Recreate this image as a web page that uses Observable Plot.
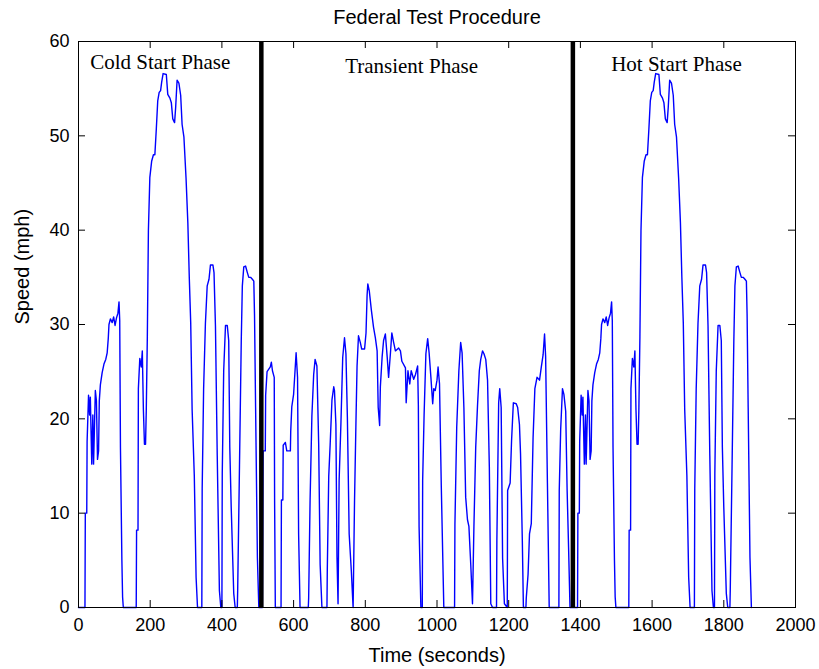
<!DOCTYPE html>
<html>
<head>
<meta charset="utf-8">
<script src="https://cdn.jsdelivr.net/npm/d3@7"></script>
<script src="https://cdn.jsdelivr.net/npm/@observablehq/plot@0.6"></script>
<style>
  html, body { margin: 0; padding: 0; background: #fff; }
  #chart svg { display: block; }
</style>
</head>
<body>
<div id="chart"></div>
<script>
// ---- Text ----
const chartTitle = "Federal Test Procedure";
const xLabel = "Time (seconds)";
const yLabel = "Speed (mph)";

// ---- Axis ticks ----
const xTicks = [0, 200, 400, 600, 800, 1000, 1200, 1400, 1600, 1800, 2000];
const yTicks = [0, 10, 20, 30, 40, 50, 60];

// ---- Phase boundaries (s) and phase annotations ----
const phaseBoundaries = [510, 1379];
const phaseNames = ["Cold Start Phase", "Transient Phase", "Hot Start Phase"];
const phaseLabelTime = [228, 929, 1668];
const phaseLabelSpeed = [57.8, 57.4, 57.6];

// ---- Speed trace [time s, speed mph] ----
const coldStartPhase = [
  [0,0],[18,0],[19,10],[23,10],[24,17.6],[28,22.5],[31,20.4],[33,22.3],[37,15.2],[40,20.4],[42,15.2],[47,23],[50,21.9],[53,15.7],[56,16.6],[58,21.9],[61,23.6],[66,24.9],[71,25.8],[76,26.3],[80,27],[83,28.5],[85,30],[89,30.6],[94,30.2],[98,30.8],[102,29.9],[106,30.7],[110,31.2],[113,32.4],[115,30.4],[117,17],[121,5],[123,1.1],[125,0],
  [161,0],[162,8.2],[166,8.2],[167,23.2],[171,26.4],[175,25.5],[178,27.2],[181,21],[184,17.3],[187,17.3],[189,20.8],[192,28.7],[195,40],[199,45.6],[204,47.3],[209,48],[213,48],[217,50.7],[221,53.7],[225,54.6],[229,54.8],[232,55.7],[236,56.6],[245,56.5],[249,54.4],[255,54],[259,53.5],[263,51.8],[268,51.4],[271,53],[275,55.9],[280,55.6],[285,54.3],[289,51.2],[294,49.9],[300,45.5],[305,40.8],[309,35],[313,30.2],[317,20.9],[323,14],[328,3.2],[332,0],
  [344,0],[345,12.6],[349,23.2],[354,30.1],[359,34.1],[364,34.8],[368,36.3],[375,36.3],[378,35.5],[382,29.9],[387,16.1],[393,1.8],[397,0],
  [400,0],[401,14.2],[405,25.1],[410,29.9],[415,29.9],[419,28.3],[422,17],[426,10.6],[433,1.5],[437,0],
  [443,0],[444,1.8],[449,14.9],[454,28.3],[457,34.1],[461,36.1],[466,36.2],[471,35.5],[475,35],[480,35],[485,34.8],[489,34.6],[491,31],[494,21.2],[499,5.3],[503,0],[505,0]
];

const transientPhase = [
  [505,0],[513,0],[515,16.6],[521,16.6],[522,22.5],[526,25],[535,25.5],[538,26],[541,25.1],[546,24.4],[547,11.5],[549,0],
  [565,0],[566,11.4],[570,11.4],[571,17.2],[577,17.5],[581,16.6],[591,16.6],[592,18.7],[595,21.3],[600,22.6],[604,25.1],[607,27],[611,24.4],[614,7.8],[618,0],
  [641,0],[642,1],[646,11.4],[651,20.3],[656,24.7],[660,26.3],[665,25.6],[670,17.3],[674,4.6],[679,0],
  [693,0],[694,4],[698,13.9],[702,17.3],[707,22],[712,23.4],[714,23],[718,19.4],[721,5.4],[724,0.4],[727,13.5],[732,19.5],[737,26.5],[742,28.6],[746,26.9],[750,20.2],[755,7.8],[761,3.9],[766,0],[770,11.4],[774,19.8],[777,25.6],[781,28.8],[786,28.1],[790,27.4],[798,27.4],[802,29.1],[805,33.1],[807,34.3],[811,33.6],[817,31.5],[823,29.7],[828,28.6],[833,27.2],[836,21.2],[840,19.3],[842,23.4],[847,26.6],[851,28.3],[856,29],[861,26.6],[865,24.4],[870,26.9],[874,29.1],[879,28.1],[884,27.2],[893,27.5],[898,27.2],[902,26.1],[912,25.4],[914,21.7],[919,25.1],[924,23.7],[928,25.1],[935,24.2],[940,24.7],[946,25.6],[948,21.4],[950,8.6],[955,0],
  [959,0],[960,13.5],[964,20.4],[969,26.9],[974,28.5],[978,27],[983,24.4],[988,21.6],[991,23.2],[995,23],[1000,24.1],[1003,25.5],[1007,23.7],[1012,12.8],[1019,0],
  [1049,0],[1050,8.8],[1055,19.1],[1061,25.1],[1066,28.1],[1070,27],[1075,21.2],[1080,11.7],[1085,9.3],[1089,8.6],[1094,4.7],[1099,0.4],[1103,8.6],[1108,17],[1113,21.4],[1118,25.1],[1122,26.3],[1127,27.2],[1131,26.9],[1136,26.3],[1141,24.1],[1146,14.9],[1150,0.4],[1155,0],
  [1166,0],[1167,7.1],[1172,21.7],[1175,23.2],[1179,21.2],[1183,5.2],[1188,0.4],[1196,0],[1197,12.4],[1204,13.2],[1208,17.7],[1213,21.7],[1221,21.6],[1225,21.2],[1230,19.4],[1233,16.3],[1238,7.1],[1241,0],[1248,0],[1249,1],[1254,3.5],[1258,7.8],[1263,8.9],[1268,18],[1273,23.2],[1279,24.4],[1286,24.1],[1291,25.5],[1296,26.8],[1300,29],[1303,26.6],[1308,13.2],[1313,0],
  [1340,0],[1341,12.4],[1345,18.9],[1350,23.2],[1354,22.6],[1359,20.8],[1363,12.4],[1367,6.4],[1371,0],[1374,0]
];

const hotStartPhase = [
  [1374,0],[1392,0],[1393,10],[1397,10],[1398,17.6],[1402,22.5],[1405,20.4],[1407,22.3],[1411,15.2],[1414,20.4],[1416,15.2],[1421,23],[1424,21.9],[1427,15.7],[1430,16.6],[1432,21.9],[1435,23.6],[1440,24.9],[1445,25.8],[1450,26.3],[1454,27],[1457,28.5],[1459,30],[1463,30.6],[1468,30.2],[1472,30.8],[1476,29.9],[1480,30.7],[1484,31.2],[1487,32.4],[1489,30.4],[1491,17],[1495,5],[1497,1.1],[1499,0],
  [1535,0],[1536,8.2],[1540,8.2],[1541,23.2],[1545,26.4],[1549,25.5],[1552,27.2],[1555,21],[1558,17.3],[1561,17.3],[1563,20.8],[1566,28.7],[1569,40],[1573,45.6],[1578,47.3],[1583,48],[1587,48],[1591,50.7],[1595,53.7],[1599,54.6],[1603,54.8],[1606,55.7],[1610,56.6],[1619,56.5],[1623,54.4],[1629,54],[1633,53.5],[1637,51.8],[1642,51.4],[1645,53],[1649,55.9],[1654,55.6],[1659,54.3],[1663,51.2],[1668,49.9],[1674,45.5],[1679,40.8],[1683,35],[1687,30.2],[1691,20.9],[1697,14],[1702,3.2],[1706,0],
  [1718,0],[1719,12.6],[1723,23.2],[1728,30.1],[1733,34.1],[1738,34.8],[1742,36.3],[1749,36.3],[1752,35.5],[1756,29.9],[1761,16.1],[1767,1.8],[1771,0],
  [1774,0],[1775,14.2],[1779,25.1],[1784,29.9],[1789,29.9],[1793,28.3],[1796,17],[1800,10.6],[1807,1.5],[1811,0],
  [1817,0],[1818,1.8],[1823,14.9],[1828,28.3],[1831,34.1],[1835,36.1],[1840,36.2],[1845,35.5],[1849,35],[1854,35],[1859,34.8],[1863,34.6],[1865,31],[1868,21.2],[1873,5.3],[1877,0]
];

// ---- Build tables for the library ----
const trace = [...coldStartPhase, ...transientPhase, ...hotStartPhase].map(([t, v]) => ({t, v}));
const phaseLabels = phaseNames.map((name, i) => ({name, t: phaseLabelTime[i], v: phaseLabelSpeed[i]}));

const W = 819, H = 669;
const mL = 78, mR = 24, mT = 41, mB = 62;
const plotW = W - mL - mR, plotH = H - mT - mB;
const tickLen = 7;
const sans = "'Liberation Sans', Arial, Helvetica, sans-serif";

const chart = Plot.plot({
  width: W,
  height: H,
  marginLeft: mL, marginRight: mR, marginTop: mT, marginBottom: mB,
  x: {domain: [0, 2000], label: null},
  y: {domain: [0, 60], label: null},
  style: {fontFamily: sans, fontSize: "18px", background: "#fff", color: "#000", overflow: "visible"},
  marks: [
    Plot.line(trace, {x: "t", y: "v", stroke: "#0000ff", strokeWidth: 1.4}),
    Plot.ruleX(phaseBoundaries, {x: d => d, stroke: "#000", strokeWidth: 4.5}),
    Plot.frame({stroke: "#000", strokeWidth: 1}),
    // inward ticks on all four sides
    Plot.ruleX(xTicks, {x: d => d, insetTop: plotH - tickLen, stroke: "#000"}),
    Plot.ruleX(xTicks, {x: d => d, insetBottom: plotH - tickLen, stroke: "#000"}),
    Plot.ruleY(yTicks, {y: d => d, insetRight: plotW - tickLen, stroke: "#000"}),
    Plot.ruleY(yTicks, {y: d => d, insetLeft: plotW - tickLen, stroke: "#000"}),
    Plot.axisX(xTicks, {tickSize: 0, tickPadding: 11, fontSize: 18, label: null, tickFormat: d => String(d)}),
    Plot.axisY(yTicks, {tickSize: 0, tickPadding: 9, fontSize: 18, label: null, tickFormat: d => String(d)}),
    Plot.text(phaseLabels, {x: "t", y: "v", text: "name", fontFamily: "'Liberation Serif', 'Times New Roman', serif", fontSize: 21, fill: "#000"}),
    Plot.text([chartTitle], {text: d => d, frameAnchor: "top", lineAnchor: "middle", dy: -24, fontSize: 20}),
    Plot.text([xLabel], {text: d => d, frameAnchor: "bottom", lineAnchor: "middle", dy: 48, fontSize: 20}),
    Plot.text([yLabel], {text: d => d, frameAnchor: "left", lineAnchor: "middle", dx: -56, rotate: -90, fontSize: 20})
  ]
});

document.getElementById("chart").appendChild(chart);
</script>
</body>
</html>
